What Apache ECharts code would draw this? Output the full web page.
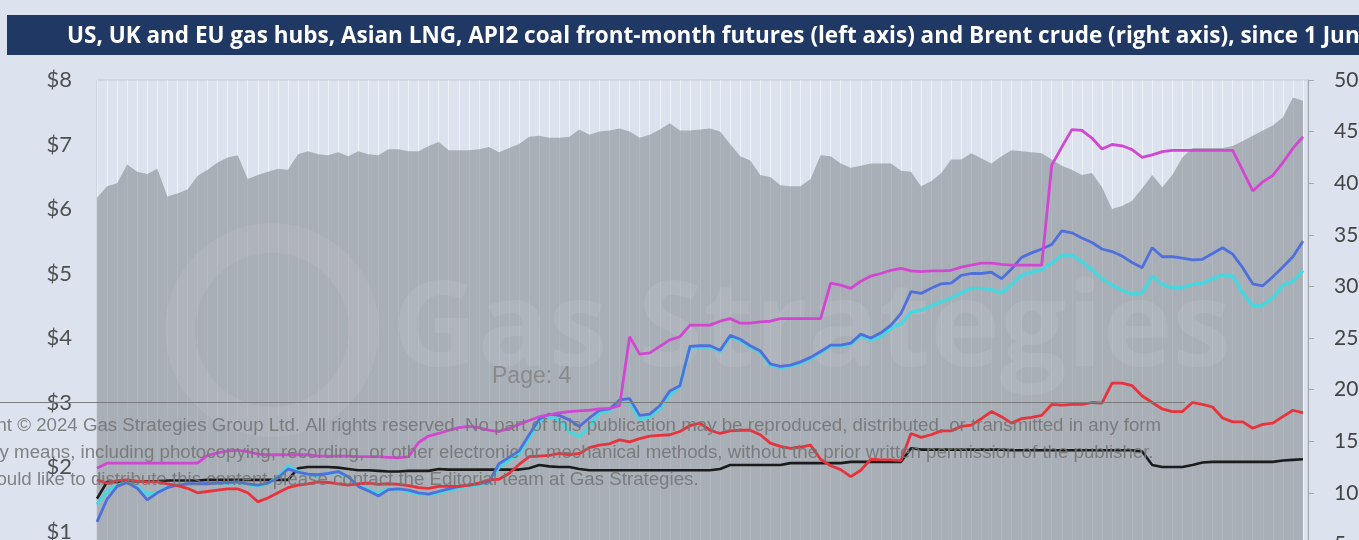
<!DOCTYPE html>
<html>
<head>
<meta charset="utf-8">
<script src="https://cdn.jsdelivr.net/npm/echarts@6/dist/echarts.min.js"></script>
<style>
  html, body { margin: 0; padding: 0; background: #dce3ef; overflow: hidden; }
  #chart { width: 1359px; height: 640px; }
</style>
</head>
<body>
<div id="chart"></div>
<script>
// daily front-month settlements since 1 June (index = trading day)
const brent = [38.6, 39.7, 40.0, 41.8, 41.1, 40.9, 41.4, 38.7, 39.0, 39.4,
  40.7, 41.3, 42.0, 42.5, 42.7, 40.4, 40.8, 41.1, 41.4, 41.3,
  42.8, 43.1, 42.8, 42.7, 43.0, 42.6, 43.1, 42.8, 42.7, 43.3,
  43.3, 43.1, 43.1, 43.6, 44.0, 43.2, 43.2, 43.2, 43.3, 43.5,
  43.0, 43.4, 43.8, 44.5, 44.6, 44.4, 44.4, 44.5, 45.2, 44.7,
  45.0, 45.1, 45.3, 45.0, 44.4, 44.7, 45.2, 45.8, 45.1, 45.1,
  45.2, 45.3, 45.0, 43.8, 42.6, 42.2, 40.8, 40.6, 39.8, 39.7,
  39.7, 40.4, 42.7, 42.6, 41.9, 41.5, 41.7, 41.9, 41.9, 41.9,
  41.2, 41.1, 39.7, 40.2, 41.0, 42.3, 42.3, 42.9, 42.4, 41.9,
  42.6, 43.2, 43.1, 43.0, 42.9, 42.3, 41.7, 41.3, 40.8, 41.0,
  39.6, 37.5, 37.8, 38.3, 39.5, 40.8, 39.6, 40.8, 42.5, 43.4,
  43.4, 43.4, 43.4, 43.6, 44.1, 44.6, 45.1, 45.6, 46.4, 48.3,
  48.0]

const asianLng = [1.98, 2.06, 2.06, 2.06, 2.06, 2.06, 2.06, 2.06, 2.06, 2.06,
  2.06, 2.18, 2.22, 2.25, 2.26, 2.24, 2.20, 2.19, 2.19, 2.19,
  2.19, 2.19, 2.17, 2.17, 2.17, 2.17, 2.16, 2.16, 2.16, 2.15,
  2.14, 2.16, 2.38, 2.48, 2.52, 2.57, 2.61, 2.63, 2.61, 2.57,
  2.55, 2.60, 2.66, 2.72, 2.78, 2.81, 2.84, 2.86, 2.87, 2.88,
  2.90, 2.91, 2.95, 4.02, 3.75, 3.77, 3.87, 3.97, 4.02, 4.20,
  4.20, 4.20, 4.26, 4.30, 4.23, 4.23, 4.25, 4.26, 4.30, 4.30,
  4.30, 4.30, 4.30, 4.85, 4.82, 4.77, 4.88, 4.96, 5.00, 5.05,
  5.08, 5.04, 5.03, 5.04, 5.04, 5.05, 5.10, 5.13, 5.16, 5.16,
  5.14, 5.13, 5.13, 5.13, 5.13, 6.68, 6.96, 7.23, 7.22, 7.10,
  6.93, 7.00, 6.98, 6.92, 6.80, 6.84, 6.89, 6.91, 6.91, 6.91,
  6.91, 6.91, 6.91, 6.91, 6.60, 6.28, 6.42, 6.52, 6.72, 6.94,
  7.12]

const ukGas = [1.15, 1.50, 1.70, 1.76, 1.67, 1.49, 1.60, 1.68, 1.72, 1.74,
  1.74, 1.74, 1.75, 1.76, 1.77, 1.74, 1.72, 1.75, 1.83, 1.97,
  1.92, 1.89, 1.88, 1.90, 1.93, 1.85, 1.70, 1.63, 1.55, 1.65,
  1.66, 1.64, 1.60, 1.58, 1.62, 1.66, 1.70, 1.72, 1.74, 1.77,
  2.05, 2.15, 2.25, 2.50, 2.74, 2.82, 2.80, 2.73, 2.63, 2.76,
  2.88, 2.90, 3.04, 3.06, 2.80, 2.82, 2.95, 3.18, 3.26, 3.87,
  3.88, 3.88, 3.81, 4.04, 3.98, 3.88, 3.80, 3.60, 3.56, 3.58,
  3.63, 3.70, 3.79, 3.89, 3.89, 3.92, 4.06, 4.00, 4.08, 4.20,
  4.38, 4.72, 4.69, 4.77, 4.84, 4.85, 4.97, 5.00, 5.00, 5.02,
  4.92, 5.07, 5.25, 5.32, 5.38, 5.45, 5.66, 5.63, 5.55, 5.48,
  5.38, 5.34, 5.27, 5.17, 5.09, 5.40, 5.26, 5.26, 5.24, 5.21,
  5.22, 5.31, 5.40, 5.30, 5.09, 4.84, 4.81, 4.95, 5.10, 5.26,
  5.50]

const euGas = [1.42, 1.62, 1.72, 1.76, 1.69, 1.58, 1.60, 1.70, 1.72, 1.73,
  1.73, 1.73, 1.74, 1.75, 1.76, 1.73, 1.70, 1.74, 1.85, 2.02,
  1.93, 1.88, 1.87, 1.90, 1.92, 1.84, 1.72, 1.65, 1.60, 1.66,
  1.65, 1.62, 1.58, 1.57, 1.60, 1.64, 1.68, 1.70, 1.72, 1.76,
  2.00, 2.10, 2.20, 2.45, 2.70, 2.78, 2.72, 2.55, 2.47, 2.62,
  2.84, 2.87, 3.00, 3.00, 2.74, 2.78, 2.90, 3.12, 3.25, 3.86,
  3.86, 3.86, 3.79, 4.02, 3.96, 3.86, 3.78, 3.58, 3.54, 3.56,
  3.61, 3.68, 3.77, 3.87, 3.87, 3.90, 4.03, 3.97, 4.02, 4.15,
  4.22, 4.40, 4.43, 4.50, 4.56, 4.62, 4.70, 4.77, 4.77, 4.75,
  4.70, 4.83, 4.97, 5.02, 5.06, 5.16, 5.28, 5.29, 5.18, 5.06,
  4.92, 4.82, 4.74, 4.68, 4.70, 4.96, 4.83, 4.78, 4.78, 4.83,
  4.85, 4.92, 4.98, 4.96, 4.70, 4.50, 4.51, 4.62, 4.82, 4.88,
  5.05]

const usGas = [1.80, 1.75, 1.79, 1.80, 1.78, 1.77, 1.77, 1.74, 1.71, 1.67,
  1.60, 1.62, 1.64, 1.66, 1.66, 1.60, 1.46, 1.52, 1.60, 1.68,
  1.72, 1.74, 1.77, 1.76, 1.74, 1.72, 1.74, 1.75, 1.73, 1.74,
  1.73, 1.71, 1.68, 1.67, 1.70, 1.70, 1.70, 1.72, 1.75, 1.80,
  1.81, 1.90, 2.04, 2.16, 2.17, 2.18, 2.21, 2.19, 2.21, 2.30,
  2.34, 2.36, 2.42, 2.39, 2.44, 2.48, 2.49, 2.50, 2.55, 2.64,
  2.68, 2.57, 2.52, 2.56, 2.57, 2.57, 2.50, 2.37, 2.32, 2.29,
  2.31, 2.34, 2.12, 2.02, 1.96, 1.85, 1.95, 2.12, 2.11, 2.11,
  2.10, 2.52, 2.46, 2.50, 2.56, 2.56, 2.63, 2.65, 2.75, 2.86,
  2.78, 2.68, 2.75, 2.77, 2.80, 2.97, 2.96, 2.97, 2.97, 3.00,
  2.99, 3.30, 3.30, 3.26, 3.10, 3.00, 2.90, 2.86, 2.86, 3.00,
  2.97, 2.93, 2.76, 2.70, 2.70, 2.60, 2.66, 2.68, 2.78, 2.88,
  2.84]

const coal = [1.51, 1.77, 1.77, 1.78, 1.78, 1.78, 1.78, 1.79, 1.79, 1.79,
  1.79, 1.80, 1.80, 1.80, 1.80, 1.80, 1.80, 1.80, 1.80, 1.80,
  1.98, 2.00, 2.00, 2.00, 1.99, 1.97, 1.95, 1.95, 1.94, 1.93,
  1.93, 1.94, 1.94, 1.94, 1.97, 1.96, 1.96, 1.96, 1.96, 1.96,
  1.96, 1.96, 1.96, 1.98, 2.03, 2.01, 2.00, 2.00, 1.97, 1.95,
  1.95, 1.95, 1.95, 1.95, 1.95, 1.95, 1.95, 1.95, 1.95, 1.95,
  1.95, 1.95, 1.97, 2.03, 2.03, 2.03, 2.03, 2.03, 2.03, 2.06,
  2.06, 2.06, 2.06, 2.06, 2.06, 2.08, 2.08, 2.08, 2.08, 2.08,
  2.08, 2.29, 2.27, 2.27, 2.27, 2.27, 2.27, 2.27, 2.27, 2.27,
  2.27, 2.26, 2.26, 2.26, 2.26, 2.26, 2.26, 2.26, 2.26, 2.26,
  2.26, 2.26, 2.26, 2.26, 2.24, 2.03, 2.00, 2.00, 2.00, 2.03,
  2.07, 2.08, 2.08, 2.08, 2.08, 2.08, 2.08, 2.08, 2.10, 2.11,
  2.12]

const leftTicks = [1, 2, 3, 4, 5, 6, 7, 8]
const rightTicks = [0, 5, 10, 15, 20, 25, 30, 35, 40, 45, 50]

const titleText = 'US, UK and EU gas hubs, Asian LNG, API2 coal front-month futures (left axis) and Brent crude (right axis), since 1 June'
const footer = [
  'Copyright \u00a9 2024 Gas Strategies Group Ltd. All rights reserved. No part of this publication may be reproduced, distributed, or transmitted in any form',
  'or by any means, including photocopying, recording, or other electronic or mechanical methods, without the prior written permission of the publisher.',
  'If you would like to distribute this content please contact the Editorial team at Gas Strategies.'
]

const toPairs = arr => arr.map((v, i) => [i, v])
const labelFont = 'Lato, "Open Sans", sans-serif'

const lineSeries = (name, arr, color, width, z) => ({
  name: name,
  type: 'line',
  yAxisIndex: 0,
  data: toPairs(arr),
  showSymbol: false,
  z: z,
  lineStyle: { color: color, width: width },
  animation: false
})

const chart = echarts.init(document.getElementById('chart'))
chart.setOption({
  backgroundColor: '#dce3ef',
  animation: false,
  grid: {
    left: 97,
    right: 51,
    top: 80,
    bottom: 44,
    show: true,
    borderColor: '#c3c8d1',
    borderWidth: 1,
    outerBoundsMode: 'none'
  },
  xAxis: {
    type: 'value',
    min: 0,
    max: brent.length - 0.5,
    interval: 1,
    axisLine: { show: false },
    axisTick: { show: false },
    axisLabel: { show: false },
    splitLine: { show: true, lineStyle: { color: 'rgba(255,255,255,0.55)', width: 1 } }
  },
  yAxis: [{
    type: 'value',
    position: 'left',
    min: 0,
    max: leftTicks[leftTicks.length - 1],
    interval: 1,
    axisLine: { show: false },
    axisTick: { show: false },
    splitLine: { show: false },
    axisLabel: {
      margin: 25,
      color: '#505050',
      fontSize: 22,
      fontFamily: labelFont,
      formatter: v => leftTicks.indexOf(v) >= 0 ? '$' + v : ''
    }
  }, {
    type: 'value',
    position: 'right',
    min: 0,
    max: rightTicks[rightTicks.length - 1],
    interval: 5,
    axisLine: { show: true, lineStyle: { color: '#a3a7ae', width: 1 } },
    axisTick: { show: true, inside: false, length: 6, lineStyle: { color: '#a3a7ae' } },
    splitLine: { show: false },
    axisLabel: {
      margin: 26,
      color: '#444',
      fontSize: 21,
      fontFamily: labelFont
    }
  }],
  series: [
    {
      name: 'Brent',
      type: 'line',
      yAxisIndex: 1,
      data: toPairs(brent),
      showSymbol: false,
      z: 2,
      lineStyle: { width: 0 },
      areaStyle: { color: 'rgba(122,126,132,0.52)', opacity: 1 },
      animation: false
    },
    lineSeries('API2 coal', coal, '#1b1b1b', 2.6, 5),
    lineSeries('EU gas', euGas, '#48d6df', 3.4, 6),
    lineSeries('UK gas', ukGas, '#4f6fdc', 2.8, 7),
    lineSeries('US gas', usGas, '#e8323c', 2.8, 8),
    lineSeries('Asian LNG', asianLng, '#d247d2', 2.8, 9)
  ],
  graphic: [
    {
      type: 'rect', z: 20,
      shape: { x: 7, y: 15, width: 1400, height: 40 },
      style: { fill: '#1f3864' }
    },
    {
      type: 'text', z: 21, x: 67, y: 37,
      style: {
        text: titleText, fill: '#ffffff',
        font: 'bold 22.5px "Open Sans", sans-serif',
        textVerticalAlign: 'middle'
      }
    },
    // faint watermark
    {
      type: 'circle', z: 3,
      shape: { cx: 272, cy: 330, r: 92 },
      style: { fill: 'none', stroke: 'rgba(255,255,255,0.07)', lineWidth: 30 }
    },
    {
      type: 'text', z: 3, x: 392, y: 332,
      style: {
        text: 'Gas Strategies', fill: 'rgba(255,255,255,0.08)',
        font: 'bold 118px "Open Sans", sans-serif',
        textVerticalAlign: 'middle'
      }
    },
    // page overlay
    {
      type: 'text', z: 30, x: 492, y: 377,
      style: {
        text: 'Page: 4', fill: '#8a8a8a',
        font: '23px "Liberation Sans", Arial, sans-serif',
        textVerticalAlign: 'middle'
      }
    },
    {
      type: 'line', z: 30,
      shape: { x1: 0, y1: 402.5, x2: 1185, y2: 402.5 },
      style: { stroke: '#7c7c7c', lineWidth: 1 }
    }
  ].concat(footer.map((t, i) => ({
    type: 'text', z: 30, x: -68, y: 426 + i * 27,
    style: {
      text: t, fill: 'rgba(118,118,118,0.9)',
      font: '18.7px "Liberation Sans", Arial, sans-serif',
      textVerticalAlign: 'middle'
    }
  })))
})
</script>
</body>
</html>
